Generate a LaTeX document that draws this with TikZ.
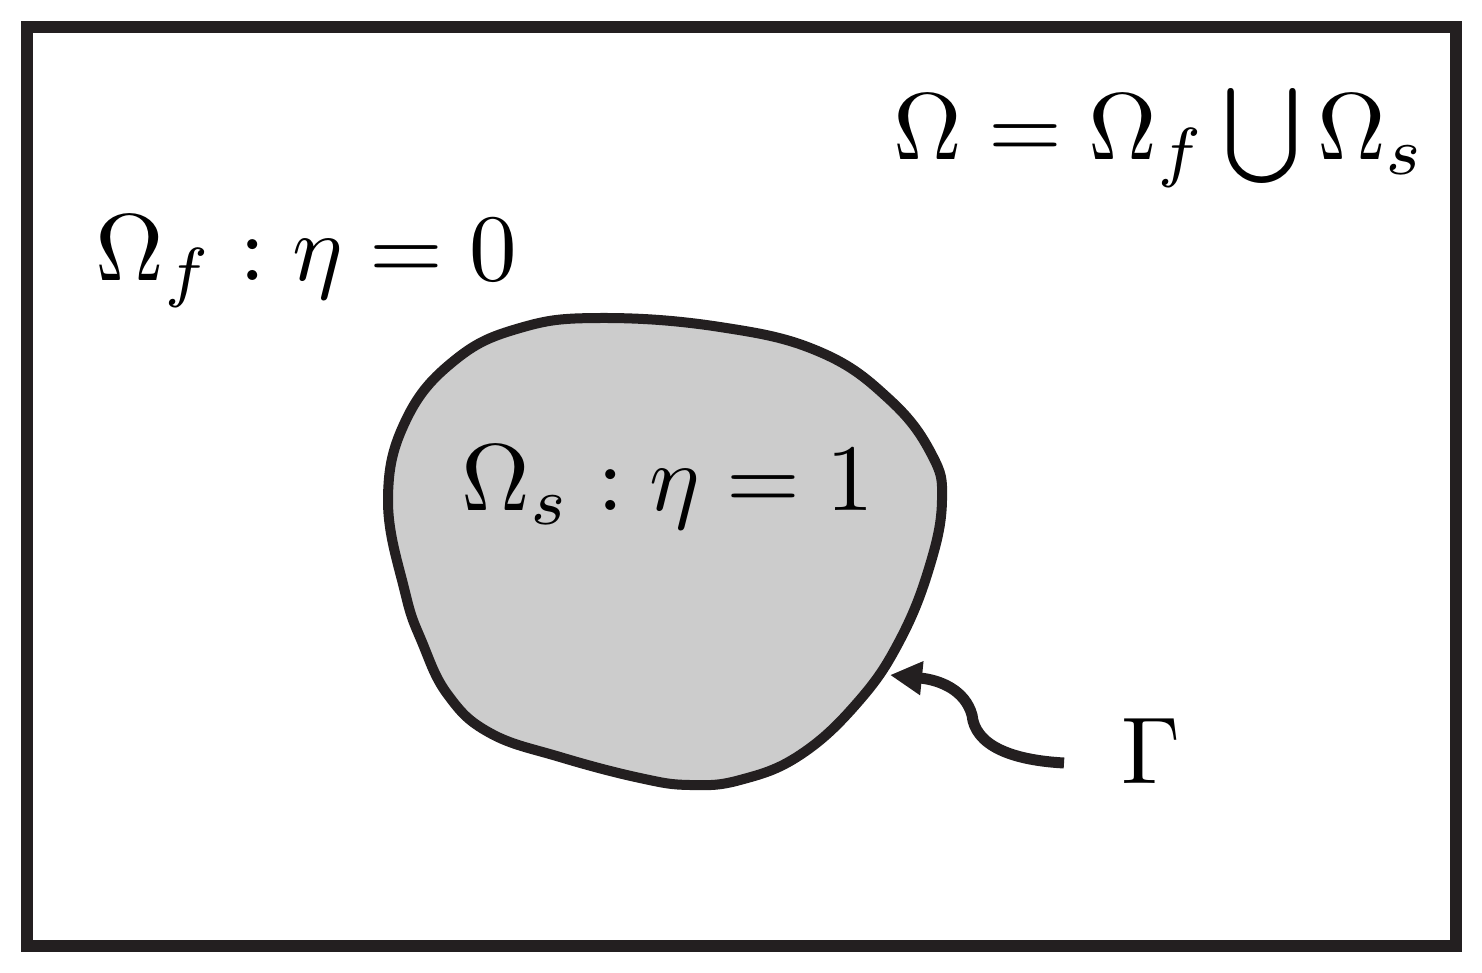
\documentclass[tikz,border=0pt]{standalone}
\usepackage{graphicx}
\usetikzlibrary{arrows.meta}
\definecolor{ink}{HTML}{231F20}
\definecolor{solid}{HTML}{CCCCCC}
\newcommand{\bigtxt}[1]{\scalebox{4.75}{#1}}
\begin{document}
\begin{tikzpicture}[x=0.5pt,y=-0.5pt,
  lbl/.style={inner sep=0pt,anchor=base west},
  frame/.style={draw=ink,line width=6pt},
  blob/.style={draw=ink,fill=solid,line width=5pt},
  gammaarrow/.style={draw=ink,line width=5.5pt,-{Triangle[length=16pt,width=16pt]}}]
\useasboundingbox (0,0) rectangle (1482,973);
\draw[frame] (27,27) rectangle (1456,946);
\draw[blob] plot[smooth cycle,tension=0.7] coordinates {
 (388,500) (406,420) (455,360) (520,328) (600,318) (720,327) (820,352)
 (890,400) (932,455) (942,500) (930,565) (900,640) (858,702) (800,755)
 (740,780) (690,785) (640,778) (560,757) (490,733) (448,695) (422,642) (405,592)};
\node[lbl] (all) at (893,160) {\bigtxt{$\Omega=\Omega_f\bigcup\Omega_s$}};
\node[lbl] (fluid) at (95,280) {\bigtxt{$\Omega_f:\eta=0$}};
\node[lbl] (solidlbl) at (461,510) {\bigtxt{$\Omega_s:\eta=1$}};
\node[lbl] (gamma) at (1121,783) {\bigtxt{$\Gamma$}};
\coordinate (tail) at (1064,763);
\coordinate (mid) at (972,715);
\coordinate (tip) at (890,675);
\draw[gammaarrow] (tail) .. controls (1010,760) and (975,745) .. (mid)
  .. controls (965,690) and (940,680) .. (tip);
\end{tikzpicture}
\end{document}
